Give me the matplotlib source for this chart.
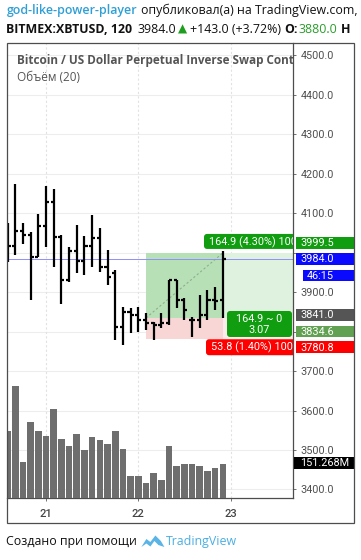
import matplotlib
matplotlib.use("Agg")
import matplotlib.pyplot as plt
import matplotlib.transforms as mtransforms
from matplotlib.patches import Rectangle, FancyBboxPatch, Polygon

# ---------------- data ----------------
bar_times = ["20 14:00", "20 16:00", "20 18:00", "20 20:00", "20 22:00",
             "21 00:00", "21 02:00", "21 04:00", "21 06:00", "21 08:00", "21 10:00",
             "21 12:00", "21 14:00", "21 16:00", "21 18:00", "21 20:00", "21 22:00",
             "22 00:00", "22 02:00", "22 04:00", "22 06:00", "22 08:00", "22 10:00",
             "22 12:00", "22 14:00", "22 16:00", "22 18:00", "22 20:00", "22 22:00"]
opens = [4030, 4018, 4056, 4044, 3988, 4069, 4129, 4041, 3932, 4005, 3980, 4018, 4037, 3965,
         3948, 3812, 3851, 3842, 3830, 3821, 3817, 3821, 3931, 3880, 3830, 3830, 3842, 3880, 3880]
highs = [4075, 4174, 4076, 4052, 4098, 4169, 4161, 4045, 4014, 4070, 4042, 4096, 4062, 4007,
         3956, 3863, 3859, 3863, 3847, 3825, 3847, 3931, 3931, 3885, 3838, 3893, 3906, 3914, 4005]
lows = [3977, 3994, 4022, 3880, 3988, 4014, 3963, 3869, 3927, 3948, 3944, 3965, 3952, 3918,
        3779, 3766, 3796, 3800, 3804, 3779, 3808, 3817, 3859, 3830, 3787, 3808, 3830, 3855, 3834]
closes = [4018, 4056, 4044, 3988, 4069, 4129, 4041, 3932, 4005, 3980, 4018, 4037, 3965, 3939,
          3812, 3851, 3842, 3830, 3821, 3817, 3821, 3931, 3880, 3855, 3830, 3842, 3880, 3878, 3984]
volumes_m = [299, 501, 162, 340, 299, 277, 398, 264, 232, 286, 214, 272, 259, 241, 299, 219,
             97, 97, 66, 111, 79, 232, 142, 151, 151, 142, 121, 133, 151.268]

x_ticks = [21, 22, 23]
x_tick_labels = ["21", "22", "23"]
y_ticks = [3400, 3500, 3600, 3700, 3800, 3900, 4000, 4100, 4200, 4300, 4400, 4500]
hidden_y_labels = [4000, 3800]  # covered by the coloured price labels

# long position tool
pos_start = "22 02:00"
pos_hit = "22 22:00"
entry_price = 3834.6
target_price = 3999.5
stop_price = 3780.8
target_label = "164.9 (4.30%) 1000"
stop_label = "53.8 (1.40%) 1000"
center_label = "164.9 ~ 0\n3.07"

last_price = 3984.0
prev_close = 3841.0
countdown = "46:15"
last_volume_label = "151.268M"

# ---------------- helpers ----------------
W, H = 361, 560


def to_day(s):
    d, hm = s.split()
    h, m = hm.split(":")
    return int(d) + (int(h) + int(m) / 60) / 24


xs = [to_day(t) for t in bar_times]
bw = 1 / 12

fig = plt.figure(figsize=(W / 100, H / 100), dpi=100)
fig.patch.set_facecolor("white")
T = mtransforms.Affine2D().scale(1, -1).translate(0, H)  # pixel coords, origin top-left

L, R, TOP, BOT = 6.7, 293.0, 42.7, 497.7
ax = fig.add_axes([L / W, (H - BOT) / H, (R - L) / W, (BOT - TOP) / H])
ax.set_xlim(20.574, 23.677)
ax.set_ylim(3379.1, 4532.4)

# grid
for yv in y_ticks:
    ax.axhline(yv, color="#ededed", lw=0.8, zorder=0)
for xv in x_ticks:
    ax.axvline(xv, color="#e2e2e2", lw=0.8, ls=(0, (2, 2)), zorder=0)

# position tool shading
x0p, x1p = to_day(pos_start), to_day(pos_hit)
xr = 24.0
ax.add_patch(Rectangle((x0p, entry_price), x1p - x0p, target_price - entry_price,
                       facecolor="#b7e0b7", edgecolor="none", zorder=1))
ax.add_patch(Rectangle((x1p, entry_price), xr - x1p, target_price - entry_price,
                       facecolor="#dff1df", edgecolor="none", zorder=1))
ax.add_patch(Rectangle((x0p, stop_price), x1p - x0p, entry_price - stop_price,
                       facecolor="#f8d6d6", edgecolor="none", zorder=1))
ax.add_patch(Rectangle((x1p, stop_price), xr - x1p, entry_price - stop_price,
                       facecolor="#fcebeb", edgecolor="none", zorder=1))
ax.plot([x0p, x1p], [entry_price, target_price], color="#8fae8f", lw=0.8,
        ls=(0, (2, 2)), zorder=2)

# current price line
ax.axhline(last_price, color="#8f8fff", lw=0.7, zorder=2)

# volume
axv = ax.twinx()
axv.set_ylim(0, 2043)
axv.bar(xs, volumes_m, width=bw * 0.86, color="#6e6e6e", zorder=1)
axv.axis("off")

# OHLC bars
tick = 0.0335
lwb = 1.6
ax.vlines(xs, lows, highs, color="black", lw=lwb, zorder=5)
ax.hlines(opens, [x - tick for x in xs], xs, color="black", lw=lwb, zorder=5)
ax.hlines(closes, xs, [x + tick for x in xs], color="black", lw=lwb, zorder=5)

# spines / ticks
for s in ["left", "top"]:
    ax.spines[s].set_visible(False)
for s in ["right", "bottom"]:
    ax.spines[s].set_color("#4d4d4d")
    ax.spines[s].set_linewidth(0.9)
ax.yaxis.tick_right()
ax.set_yticks(y_ticks)
ax.set_yticklabels(["" if v in hidden_y_labels else f"{v:.1f}" for v in y_ticks],
                   family="Roboto", fontsize=7.8, color="#505050")
ax.tick_params(axis="y", length=2.5, width=0.7, color="#707070", pad=3)
ax.set_xticks(x_ticks)
ax.set_xticklabels(x_tick_labels, family="Roboto", fontsize=8, color="#444444",
                   fontweight="medium")
ax.tick_params(axis="x", length=2, width=0.7, color="#707070", pad=6)

# in-chart title
ax.text(16.7, 60.7, "Bitcoin / US Dollar Perpetual Inverse Swap Cont", transform=T,
        va="center", ha="left", family="Open Sans", fontsize=8.5, fontweight="bold",
        color="#555555", clip_on=True)
ax.text(16.7, 77.5, "Объём (20)", transform=T, va="center", ha="left",
        family="Open Sans", fontsize=8.5, color="#555555", clip_on=True)


def price_px(p):
    return H - ax.transData.transform((xs[0], p))[1]


# labels inside plot (position tool)
def plot_box(x0, y0, x1, y1, color, text, tx, ha="left", r=3):
    ax.add_patch(FancyBboxPatch((x0, y0), x1 - x0, y1 - y0,
                                boxstyle=f"round,pad=0,rounding_size={r}",
                                transform=T, facecolor=color, edgecolor="none",
                                zorder=8, clip_on=True))
    ax.text(tx, (y0 + y1) / 2 + 0.5, text, transform=T, ha=ha, va="center",
            color="white", family="Roboto", fontsize=7.8, zorder=9, clip_on=True,
            linespacing=1.05)


py_t = price_px(target_price)
py_e = price_px(entry_price)
py_s = price_px(stop_price)
plot_box(204, py_t - 19, 300, py_t - 4, "#109e10", target_label, 209)
plot_box(227, py_e - 7, 292, py_e + 19, "#109e10", center_label, 259.5, ha="center")
plot_box(206, py_s + 0, 300, py_s + 16, "#ff0000", stop_label, 211)


# right-axis colored labels
def axis_label(yc, text, color, x0=296, x1=354.5, h=11.5):
    fig.patches.append(Rectangle((x0, yc - h / 2), x1 - x0, h, transform=T,
                                 facecolor=color, edgecolor="none", zorder=10))
    fig.text(300.5 if x0 < 300 else x0 + 4, yc + 0.3, text, transform=T, ha="left",
             va="center", color="white", family="Roboto", fontsize=7.8, zorder=11)


axis_label(py_t - 10, f"{target_price:.1f}", "#109e10")
py_l = price_px(last_price)
axis_label(py_l, f"{last_price:.1f}", "#0a0aff")
axis_label(py_l + 16.5, countdown, "#0a0aff", x0=302.5)
axis_label(price_px(prev_close) - 0.5, f"{prev_close:.1f}", "#555555")
axis_label(py_e + 13.5, f"{entry_price:.1f}", "#62a052")
axis_label(py_s + 8, f"{stop_price:.1f}", "#ff0000")
vol_py = H - axv.transData.transform((xs[-1], volumes_m[-1]))[1]
axis_label(vol_py - 1, last_volume_label, "#000000", x0=294)

# outer frame
fig.patches.append(Rectangle((L, TOP), 354.3 - L, 523 - TOP, transform=T,
                             facecolor="none", edgecolor="#4d4d4d", lw=0.9, zorder=12))

# header
fig.canvas.draw()
renderer = fig.canvas.get_renderer()


def seq(x, y, pieces):
    for s, gap, kw in pieces:
        t = fig.text(x, y, s, transform=T, va="center", ha="left", **kw)
        x += t.get_window_extent(renderer).width + gap
    return x


hdr = dict(family="Open Sans", fontsize=8.9)
seq(6.5, 10.5, [
    ("god-like-power-player", 3.5, dict(color="#2f9fd6", fontweight="semibold", **hdr)),
    ("опубликовал(а) на TradingView.com, Д", 0, dict(color="#111111", **hdr)),
])
seq(6.5, 29.5, [
    ("BITMEX:XBTUSD, 120", 4.5, dict(color="#111111", fontweight="bold", **hdr)),
    ("3984.0", 2.5, dict(color="#111111", **hdr)),
    ("▲", 2.5, dict(color="#1e9e1e", family="DejaVu Sans", fontsize=8.6)),
    ("+143.0 (+3.72%)", 3.5, dict(color="#111111", **hdr)),
    ("O:", 0.5, dict(color="#111111", fontweight="bold", **hdr)),
    ("3880.0", 3.5, dict(color="#2a9d2a", **hdr)),
    ("H", 0, dict(color="#111111", fontweight="bold", **hdr)),
])

# footer
xe = seq(6.5, 541.5, [("Создано при помощи", 4, dict(color="#111111", **hdr))])
logo = Polygon([(xe, 547), (xe + 5, 539), (xe + 9, 542), (xe + 14, 535.5),
                (xe + 19.5, 541), (xe + 23, 547), (xe + 17, 545), (xe + 13, 541),
                (xe + 9, 546.5), (xe + 5, 543.5)], closed=True, transform=T,
               facecolor="#5ab4e6", edgecolor="none")
fig.patches.append(logo)
fig.text(xe + 25, 541.5, "TradingView", transform=T, va="center", ha="left",
         color="#4aaee3", family="Open Sans", fontsize=8.9)

fig.savefig("out.png", dpi=100, facecolor="white")
